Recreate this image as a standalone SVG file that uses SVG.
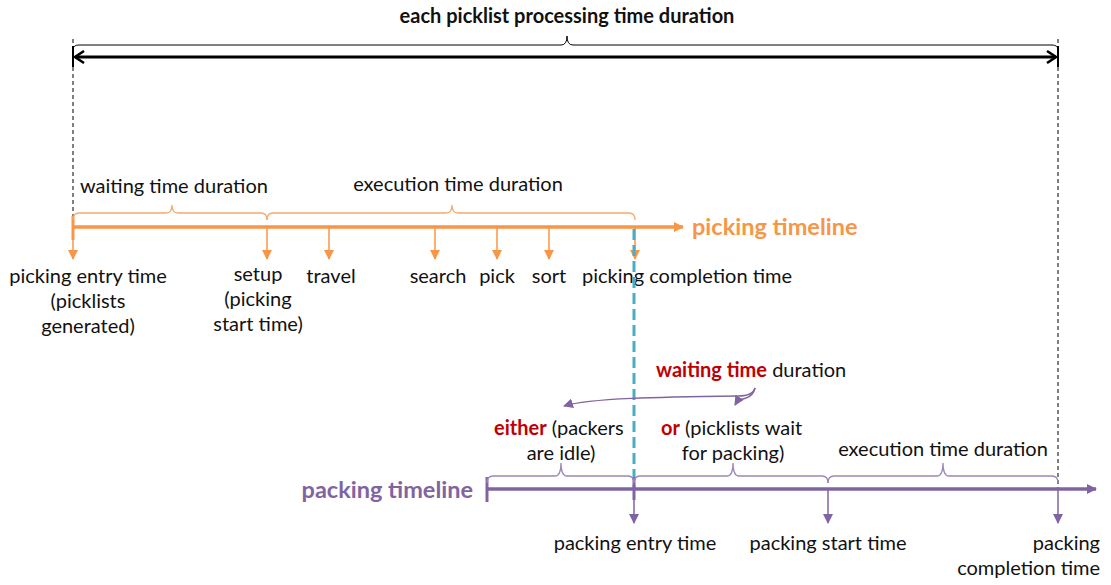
<svg xmlns="http://www.w3.org/2000/svg" width="1111" height="585" viewBox="0 0 1111 585">
<style>
text{font-family:Lato,"Open Sans","Liberation Sans",sans-serif;font-size:20px;fill:#111}
.b{font-weight:bold}
.tl{font-size:23.5px;font-weight:bold}
.red{fill:#C00000;font-weight:bold}
.or{fill:#F79646}
.pu{fill:#8064A2}
.dash{stroke:#000;stroke-width:1;stroke-dasharray:4 3;fill:none}
.obr{stroke:#F8A96B;stroke-width:1.3;fill:none}
.pbr{stroke:#9C86B9;stroke-width:1.3;fill:none}
.oarr{stroke:#F79646;stroke-width:1.5;fill:none}
.parr{stroke:#8064A2;stroke-width:1.5;fill:none}
</style>
<defs>
<marker id="ot" markerWidth="10" markerHeight="10" refX="9" refY="5" orient="auto" markerUnits="userSpaceOnUse"><path d="M0,0 L10,5 L0,10 Z" fill="#F79646"/></marker>
<marker id="pt" markerWidth="10" markerHeight="10" refX="9" refY="5" orient="auto" markerUnits="userSpaceOnUse"><path d="M0,0 L10,5 L0,10 Z" fill="#8064A2"/></marker>
<marker id="bk" markerWidth="12" markerHeight="14" refX="10" refY="7" orient="auto-start-reverse" markerUnits="userSpaceOnUse"><path d="M1,1 L10,7 L1,13" fill="none" stroke="#000" stroke-width="2.5"/></marker>
</defs>

<g id="overall">
<text x="567" y="23" text-anchor="middle" class="b">each picklist processing time duration</text>
<path d="M73,50 Q73,45 79,45 L561,45 Q567,45 567,36 Q567,45 573,45 L1052,45 Q1058,45 1058,50" fill="none" stroke="#000" stroke-width="1"/>
<line x1="75" y1="57" x2="1056" y2="57" stroke="#000" stroke-width="3" marker-start="url(#bk)" marker-end="url(#bk)"/>
<line x1="73" y1="46" x2="73" y2="67" stroke="#000" stroke-width="2"/>
<line x1="1058" y1="46" x2="1058" y2="67" stroke="#000" stroke-width="2"/>
<line x1="73" y1="39" x2="73" y2="218" class="dash"/>
<line x1="1058" y1="39" x2="1058" y2="488" class="dash"/>
</g>

<g id="picking-timeline">
<line x1="73" y1="227" x2="683" y2="227" stroke="#F79646" stroke-width="3.5" marker-end="url(#ot)"/>
<line x1="73" y1="216" x2="73" y2="240" stroke="#F79646" stroke-width="3"/>
<text x="692" y="235" class="tl or">picking timeline</text>
<path class="obr" d="M73,220 Q73,213 79,213 L166,213 Q172,213 172,205 Q172,213 178,213 L261,213 Q267,213 267,220"/>
<path class="obr" d="M267,220 Q267,213 273,213 L446,213 Q452,213 452,205 Q452,213 458,213 L629,213 Q635,213 635,220"/>
<text x="80" y="193">waiting time duration</text>
<text x="458" y="191" text-anchor="middle">execution time duration</text>
</g>

<g id="picking-events">
<line class="oarr" x1="73" y1="240" x2="73" y2="259" marker-end="url(#ot)"/>
<line class="oarr" x1="267" y1="227" x2="267" y2="259" marker-end="url(#ot)"/>
<line class="oarr" x1="329" y1="227" x2="329" y2="259" marker-end="url(#ot)"/>
<line class="oarr" x1="435" y1="227" x2="435" y2="259" marker-end="url(#ot)"/>
<line class="oarr" x1="497" y1="227" x2="497" y2="259" marker-end="url(#ot)"/>
<line class="oarr" x1="549" y1="227" x2="549" y2="259" marker-end="url(#ot)"/>
<line class="oarr" x1="635" y1="227" x2="635" y2="259" marker-end="url(#ot)"/>
<text x="88" y="283" text-anchor="middle">picking entry time</text>
<text x="88" y="308" text-anchor="middle">(picklists</text>
<text x="88" y="333" text-anchor="middle">generated)</text>
<text x="258" y="281" text-anchor="middle">setup</text>
<text x="258" y="306" text-anchor="middle">(picking</text>
<text x="258" y="331" text-anchor="middle">start time)</text>
<text x="331" y="283" text-anchor="middle">travel</text>
<text x="438" y="283" text-anchor="middle">search</text>
<text x="497" y="283" text-anchor="middle">pick</text>
<text x="549" y="283" text-anchor="middle">sort</text>
<text x="582" y="283">picking completion time</text>
</g>

<g id="handover">
<line x1="634" y1="229" x2="634" y2="489" stroke="#4BACC6" stroke-width="3" stroke-dasharray="11 5"/>
</g>

<g id="packing-waiting">
<text x="656" y="377"><tspan class="red">waiting time</tspan> duration</text>
<path class="parr" d="M755,388 Q753,396 738,396 C660,397 590,398 564,406" marker-end="url(#pt)"/>
<path class="parr" d="M755,388 Q753,396 746,398 Q738,400 735,405" marker-end="url(#pt)"/>
<text x="494" y="435"><tspan class="red">either</tspan> (packers</text>
<text x="561" y="460" text-anchor="middle">are idle)</text>
<text x="661" y="435"><tspan class="red">or</tspan> (picklists wait</text>
<text x="733" y="460" text-anchor="middle">for packing)</text>
<text x="943" y="456" text-anchor="middle">execution time duration</text>
</g>

<g id="packing-timeline">
<line x1="487" y1="489" x2="1096" y2="489" stroke="#8064A2" stroke-width="3.5" marker-end="url(#pt)"/>
<line x1="487" y1="477" x2="487" y2="502" stroke="#8064A2" stroke-width="3"/>
<line x1="634" y1="477" x2="634" y2="500" stroke="#8064A2" stroke-width="3"/>
<text x="473" y="498" text-anchor="end" class="tl pu">packing timeline</text>
<path class="pbr" d="M487,483 Q487,476 493,476 L555,476 Q561,476 561,463 Q561,476 567,476 L628,476 Q634,476 634,483"/>
<path class="pbr" d="M634,483 Q634,476 640,476 L727,476 Q733,476 733,463 Q733,476 739,476 L822,476 Q828,476 828,483"/>
<path class="pbr" d="M828,483 Q828,476 834,476 L937,476 Q943,476 943,463 Q943,476 949,476 L1052,476 Q1058,476 1058,483"/>
</g>

<g id="packing-events">
<line class="parr" x1="634" y1="500" x2="634" y2="523" marker-end="url(#pt)"/>
<line class="parr" x1="828" y1="489" x2="828" y2="523" marker-end="url(#pt)"/>
<line class="parr" x1="1058" y1="489" x2="1058" y2="523" marker-end="url(#pt)"/>
<text x="635" y="550" text-anchor="middle">packing entry time</text>
<text x="828" y="550" text-anchor="middle">packing start time</text>
<text x="1100" y="550" text-anchor="end">packing</text>
<text x="1100" y="575" text-anchor="end">completion time</text>
</g>
</svg>
